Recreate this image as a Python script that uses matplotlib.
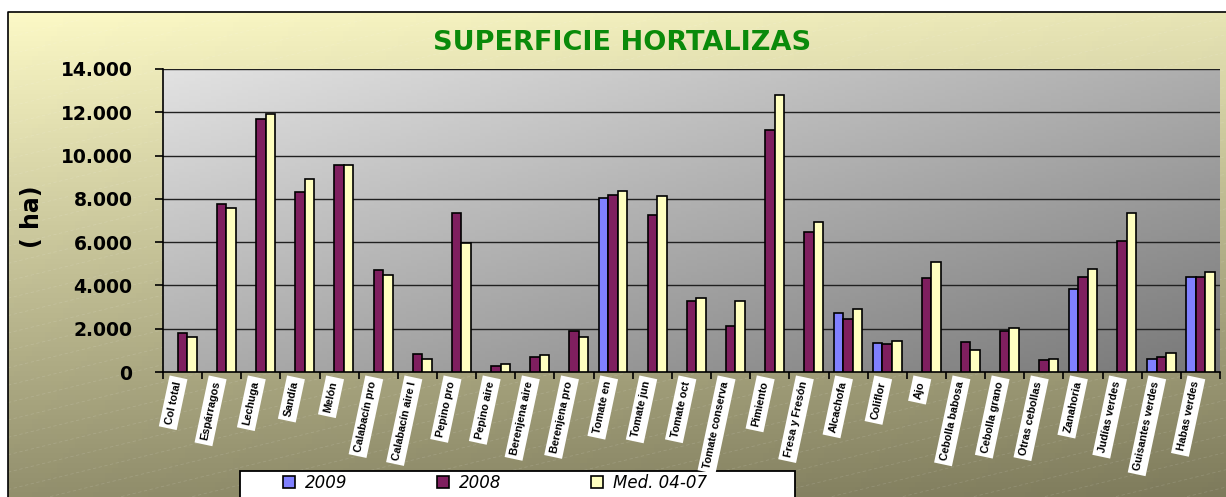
import numpy as np
import matplotlib
matplotlib.use("Agg")
import matplotlib.pyplot as plt
from matplotlib.patches import Rectangle
from matplotlib.ticker import FuncFormatter

categories = ["Col total", "Espárragos", "Lechuga", "Sandía", "Melón",
              "Calabacín pro", "Calabacín aire l", "Pepino pro", "Pepino aire",
              "Berenjena aire", "Berenjena pro", "Tomate en", "Tomate jun",
              "Tomate oct", "Tomate conserva", "Pimiento", "Fresa y Fresón",
              "Alcachofa", "Coliflor", "Ajo", "Cebolla babosa", "Cebolla grano",
              "Otras cebollas", "Zanahoria", "Judías verdes", "Guisantes verdes",
              "Habas verdes"]
v2009 = [None, None, None, None, None, None, None, None, None, None, None,
         8040, None, None, None, None, None, 2720, 1330, None, None, None,
         None, 3840, None, 590, 4410]
v2008 = [1790, 7760, 11710, 8320, 9570, 4720, 820, 7350, 290, 710, 1880,
         8160, 7270, 3260, 2140, 11160, 6470, 2450, 1280, 4350, 1370, 1880,
         540, 4400, 6050, 710, 4410]
vmed = [1630, 7590, 11910, 8940, 9570, 4480, 610, 5970, 350, 770, 1640,
        8350, 8150, 3430, 3300, 12820, 6930, 2920, 1420, 5080, 1000, 2050,
        600, 4770, 7350, 870, 4620]
series_labels = ["2009", "2008", "Med. 04-07"]
yticks = [0, 2000, 4000, 6000, 8000, 10000, 12000, 14000]

W, H = 1226, 497
fig = plt.figure(figsize=(W / 100, H / 100), dpi=100)
plt.rcParams['font.family'] = ['DejaVu Sans']

# figure background gradient
bg = fig.add_axes([0, 0, 1, 1], zorder=-10)
bg.set_xlim(0, 1); bg.set_ylim(0, 1); bg.axis('off')
nx, ny = 200, 100
xx, yy = np.meshgrid(np.linspace(0, 1, nx), np.linspace(0, 1, ny))
s = np.clip(0.13 * xx + 0.66 * yy, 0, 1)[..., None]
c0 = np.array([252, 249, 198]) / 255
c1 = np.array([92, 89, 63]) / 255
grad = c0 * (1 - s) + c1 * s
x0f, y1f = 8 / W, 1 - 12 / H
bg.imshow(grad, extent=[x0f, 1, 0, y1f], aspect='auto', origin='upper')
# faint diagonal texture lines
for k in np.arange(-1.0, 1.2, 0.035):
    bg.plot([x0f, 1], [k, k + 0.6], color='white', lw=0.6, alpha=0.12,
            ls=(0, (4, 3)))
bg.plot([x0f, x0f, 1], [0, y1f, y1f], color='black', lw=1.2)
bg.set_xlim(0, 1); bg.set_ylim(0, 1)

# main axes
L, R, T, B = 163, 1220, 69, 372
ax = fig.add_axes([L / W, 1 - B / H, (R - L) / W, (B - T) / H])
ax.patch.set_visible(False)
pa = np.clip(0.5 * xx + 0.5 * yy, 0, 1)[..., None]
g0 = np.array([226, 226, 226]) / 255
g1 = np.array([120, 120, 120]) / 255
ax.imshow(g0 * (1 - pa) + g1 * pa, extent=[0, 1, 0, 1], aspect='auto',
          origin='upper', transform=ax.transAxes, zorder=0)

x = np.arange(len(categories))
w = 0.243
cols = ['#8080ff', '#7f1f5f', '#ffffc0']
i09 = [i for i, v in enumerate(v2009) if v is not None]
b09 = ax.bar(x[i09] - w, [v2009[i] for i in i09], w, color=cols[0],
             edgecolor='black', lw=1.2, zorder=3)
b08 = ax.bar(x, v2008, w, color=cols[1], edgecolor='black', lw=1.2, zorder=3)
bmd = ax.bar(x + w, vmed, w, color=cols[2], edgecolor='black', lw=1.2, zorder=3)

ax.set_xlim(-0.5, len(categories) - 0.5)
ax.set_ylim(0, 14000)
ax.set_yticks(yticks)
ax.yaxis.set_major_formatter(FuncFormatter(lambda v, p: f"{int(v):,}".replace(',', '.')))
for yv in yticks[1:]:
    ax.axhline(yv, color='#202020', lw=1.0, zorder=1)
for sp in ['top', 'right']:
    ax.spines[sp].set_visible(False)
ax.spines['left'].set_color('black')
ax.spines['bottom'].set_color('black')
ax.spines['left'].set_linewidth(1.2)
ax.spines['bottom'].set_linewidth(1.2)
ax.tick_params(axis='y', length=6, width=1.2, pad=16, labelsize=13.5)
for t in ax.get_yticklabels():
    t.set_fontweight('bold')

ax.set_xticks(x)
ax.set_xticks(np.arange(-0.5, len(categories), 1), minor=True)
ax.tick_params(axis='x', which='major', length=0, pad=6)
ax.tick_params(axis='x', which='minor', length=5, width=1.2)
ax.set_xticklabels(categories, rotation=78, ha='right', va='top',
                   fontsize=7.8, fontweight='bold', family=['Liberation Sans', 'DejaVu Sans'],
                   bbox=dict(facecolor='white', edgecolor='none', pad=3))

fig.text(32 / W, 1 - 217 / H, "( ha)", rotation=90, ha='center', va='center',
         fontsize=17, fontweight='bold')
fig.text(622 / W, 1 - 43 / H, "SUPERFICIE HORTALIZAS", ha='center', va='center',
         fontsize=19.5, fontweight='bold', color='#0a8a0a')

# legend box (drawn beneath the axes so the category labels stay whole)
fig.add_artist(Rectangle((240 / W, -0.05), (795 - 240) / W, (H - 471) / H + 0.05,
                         transform=fig.transFigure, facecolor='white',
                         edgecolor='black', lw=1.3, zorder=-1))
fig.legend([b09, b08, bmd], series_labels, ncol=3, frameon=False,
           loc='upper left', bbox_to_anchor=(283 / W, 1 - 474 / H),
           borderpad=0, borderaxespad=0, prop=dict(style='italic', size=12),
           handlelength=0.7, handleheight=0.7, handletextpad=0.6,
           columnspacing=5.4)

fig.savefig("out.png", dpi=100)
